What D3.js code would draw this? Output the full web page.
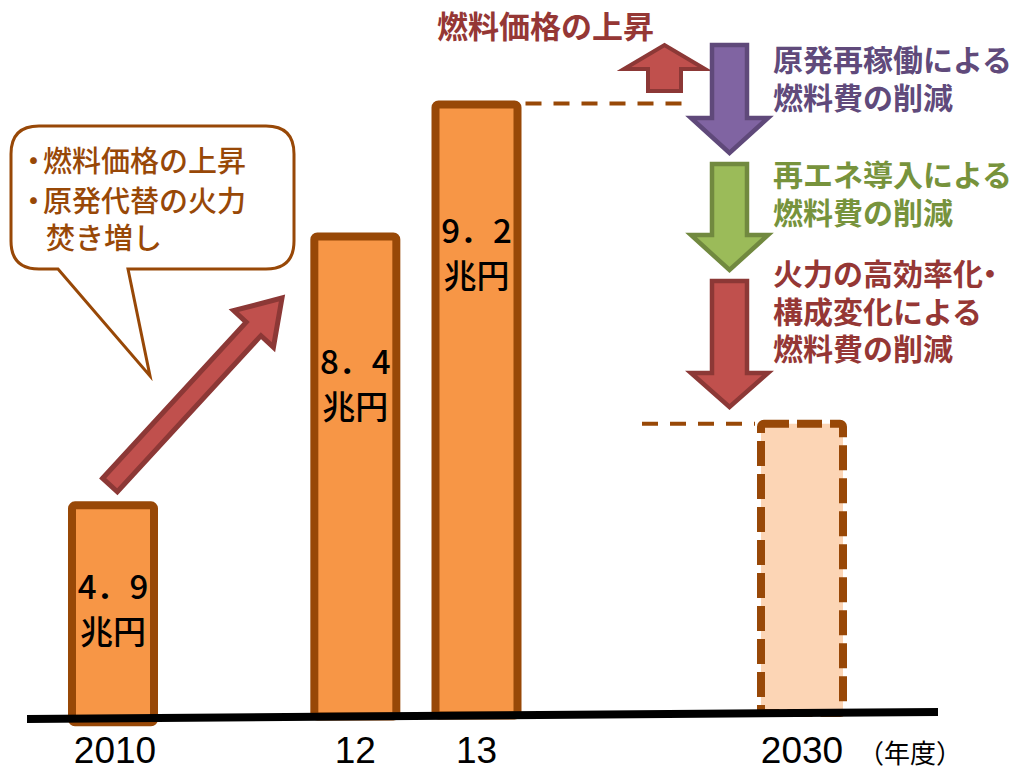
<!DOCTYPE html>
<html>
<head>
<meta charset="utf-8">
<script src="https://cdn.jsdelivr.net/npm/d3@7"></script>
<style>
  body { margin: 0; background: #fff; }
  text { font-family: "Noto Sans CJK JP", "Noto Sans", sans-serif; }
</style>
</head>
<body>
<div id="canvas"></div>
<script>
const width = 1019;
const height = 771;

// data
const categories = ["2010", "12", "13", "2030"];
const years = [2010, 2012, 2013, 2030];
const values = [4.9, 8.4, 9.2, 5.9];            // 兆円, 2030 is the unlabelled target bar
const valueLabels = ["4．9", "8．4", "9．2", ""];
const unitLabel = "兆円";
const axisUnit = "（年度）";
const projected = [false, false, false, true];

const calloutLines = ["・燃料価格の上昇", "・原発代替の火力", "焚き増し"];
const riseLabel = "燃料価格の上昇";
const cutLabels = [
    ["原発再稼働による", "燃料費の削減"],
    ["再エネ導入による", "燃料費の削減"],
    ["火力の高効率化・", "構成変化による", "燃料費の削減"]
];

const brown = "#984807";
const cutStyles = [
    { fill: "#8064A2", stroke: "#5F497A", text: "#604A7B" },
    { fill: "#9BBB59", stroke: "#71893F", text: "#77933C" },
    { fill: "#C0504D", stroke: "#8C3836", text: "#953735" }
];

const svg = d3.select("#canvas")
    .append("svg")
    .attr("width", width)
    .attr("height", height);

// the picture uses a broken horizontal axis and a schematic vertical one
const x = d3.scaleLinear()
    .domain([2010, 2013, 2030])
    .range([113, 476.5, 802]);
const h = d3.scaleLinear()
    .domain([0, 4.9, 8.4, 9.2])
    .range([0, 213, 480, 611]);

// the floor line is slightly tilted
const floorX = [27, 938];
const floor = d3.scaleLinear().domain(floorX).range([719, 712]);

const barW = 82;

// bars
categories.forEach(function(c, i){
    let cx = x(years[i]);
    let base = floor(cx);
    let top = base - h(values[i]);
    let bar = svg.append("rect")
        .attr("x", cx - barW / 2)
        .attr("y", top)
        .attr("width", barW)
        .attr("height", base - top + (i == 0 ? 4 : 0))
        .attr("rx", 3)
        .attr("stroke", brown)
        .attr("stroke-width", 8);
    if(projected[i])
        bar.attr("fill", "#FCD5B5").attr("stroke-dasharray", "25,8");
    else
        bar.attr("fill", "#F79646");

    if(valueLabels[i] != ""){
        let ly = top + Math.min(126, (base - top) / 2 - 25);   // centre of first line
        svg.append("text")
            .attr("x", cx).attr("y", ly + 12)
            .attr("text-anchor", "middle")
            .attr("font-size", 33).attr("font-weight", 500)
            .attr("fill", "#000")
            .text(valueLabels[i]);
        svg.append("text")
            .attr("x", cx).attr("y", ly + 57)
            .attr("text-anchor", "middle")
            .attr("font-size", 33).attr("font-weight", 500)
            .attr("fill", "#000")
            .text(unitLabel);
    }

    svg.append("text")
        .attr("x", cx + (i == 0 ? 2 : 0)).attr("y", 763)
        .attr("text-anchor", "middle")
        .style("font-family", "'Liberation Sans', Arial, sans-serif")
        .attr("font-size", 37)
        .attr("fill", "#000")
        .text(c);
});

svg.append("text")
    .attr("x", 858).attr("y", 763)
    .attr("font-size", 26)
    .attr("fill", "#000")
    .text(axisUnit);

svg.append("line")
    .attr("x1", floorX[0]).attr("y1", floor(floorX[0]))
    .attr("x2", floorX[1]).attr("y2", floor(floorX[1]))
    .attr("stroke", "#000")
    .attr("stroke-width", 8);

// dashed reference lines from the 2013 top and to the 2030 top
const top13 = floor(x(2013)) - h(9.2);
const top30 = floor(x(2030)) - h(5.9);
svg.append("line")
    .attr("x1", x(2013) + barW / 2 + 8).attr("x2", 692)
    .attr("y1", top13 - 1).attr("y2", top13 - 1)
    .attr("stroke", brown).attr("stroke-width", 4)
    .attr("stroke-dasharray", "16,12");
svg.append("line")
    .attr("x1", 642).attr("x2", x(2030) - barW / 2 - 6)
    .attr("y1", top30).attr("y2", top30)
    .attr("stroke", brown).attr("stroke-width", 4)
    .attr("stroke-dasharray", "16,12");

// block arrow pointing along +x
function arrowPath(len, shaftHalf, headHalf, headLen){
    let p = d3.path();
    p.moveTo(0, -shaftHalf);
    p.lineTo(len - headLen, -shaftHalf);
    p.lineTo(len - headLen, -headHalf);
    p.lineTo(len, 0);
    p.lineTo(len - headLen, headHalf);
    p.lineTo(len - headLen, shaftHalf);
    p.lineTo(0, shaftHalf);
    p.closePath();
    return p.toString();
}

function drawArrow(tx, ty, angle, len, shaftHalf, headHalf, headLen, fill, stroke, sw){
    svg.append("path")
        .attr("d", arrowPath(len, shaftHalf, headHalf, headLen))
        .attr("transform", `translate(${tx},${ty}) rotate(${angle})`)
        .attr("fill", fill)
        .attr("stroke", stroke)
        .attr("stroke-width", sw);
}

// diagonal rise arrow 2010 -> 12
const tail = [110, 485], tip = [282, 298];
const dx = tip[0] - tail[0], dy = tip[1] - tail[1];
drawArrow(tail[0], tail[1], Math.atan2(dy, dx) * 180 / Math.PI,
    Math.hypot(dx, dy), 10, 27, 42, "#C0504D", "#8C3836", 5);

// small up arrow
drawArrow(664.5, 91, -90, 46, 16.5, 40.5, 24, "#C0504D", "#8C3836", 4);

// three down arrows
const downArrows = [[45, 118, 153], [164, 235, 270], [281, 373, 407]];
downArrows.forEach(function(a, i){
    drawArrow(729.5, a[0], 90, a[2] - a[0], 17.5, 38.5, a[2] - a[1],
        cutStyles[i].fill, cutStyles[i].stroke, 4.5);
});

// right side texts
svg.append("text")
    .attr("x", 437).attr("y", 38)
    .attr("font-size", 31).attr("font-weight", 700)
    .attr("fill", "#953735")
    .text(riseLabel);

const cutTop = [71, 186, 285];
cutLabels.forEach(function(lines, i){
    lines.forEach(function(t, j){
        let tx = svg.append("text")
            .attr("x", 773).attr("y", cutTop[i] + j * 37.5)
            .attr("font-size", 30).attr("font-weight", 700)
            .attr("fill", cutStyles[i].text);
        if(t.endsWith("・")){
            tx.append("tspan").text(t.slice(0, -1));
            tx.append("tspan").attr("dx", -8).text("・");
        }
        else
            tx.text(t);
    });
});

// speech bubble
const bx0 = 11, by0 = 126, bx1 = 294, by1 = 269, r = 28;
const bubble = d3.path();
bubble.moveTo(bx0 + r, by0);
bubble.lineTo(bx1 - r, by0);
bubble.quadraticCurveTo(bx1, by0, bx1, by0 + r);
bubble.lineTo(bx1, by1 - r);
bubble.quadraticCurveTo(bx1, by1, bx1 - r, by1);
bubble.lineTo(128, by1);
bubble.lineTo(150, 376);
bubble.lineTo(58, by1);
bubble.lineTo(bx0 + r, by1);
bubble.quadraticCurveTo(bx0, by1, bx0, by1 - r);
bubble.lineTo(bx0, by0 + r);
bubble.quadraticCurveTo(bx0, by0, bx0 + r, by0);
bubble.closePath();
svg.append("path")
    .attr("d", bubble.toString())
    .attr("fill", "#fff")
    .attr("stroke", brown)
    .attr("stroke-width", 3);

// bullets sit tight against the text, as in the original
const bubbleY = [172, 212, 249];
calloutLines.forEach(function(t, i){
    let tx = svg.append("text")
        .attr("y", bubbleY[i])
        .attr("font-size", 29).attr("font-weight", 500)
        .attr("fill", brown);
    if(t.startsWith("・")){
        tx.attr("x", 19);
        tx.append("tspan").text("・");
        tx.append("tspan").attr("dx", -5).text(t.slice(1));
    }
    else
        tx.attr("x", 46).text(t);
});
</script>
</body>
</html>
